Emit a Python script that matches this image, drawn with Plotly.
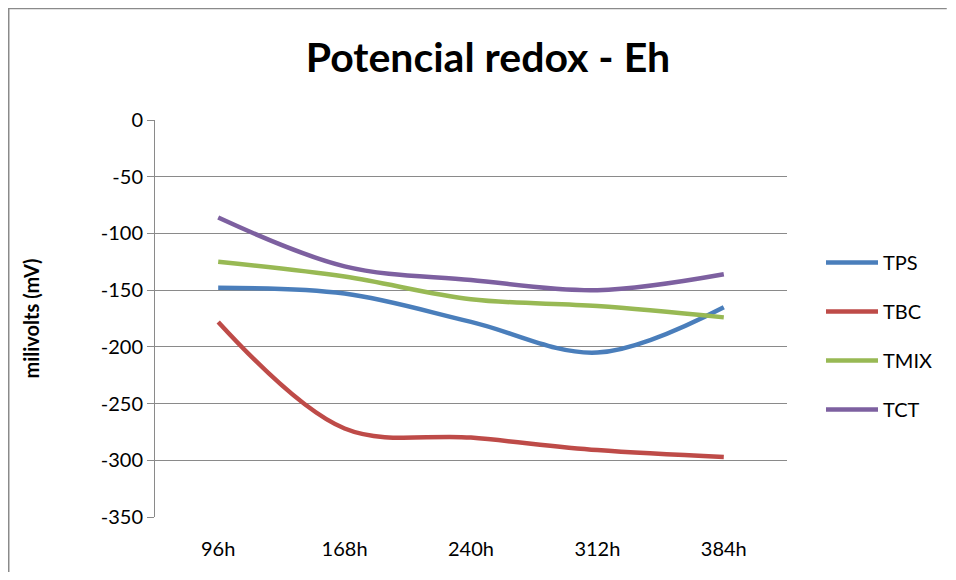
import plotly.graph_objects as go

categories = ["96h", "168h", "240h", "312h", "384h"]
series_names = ["TPS", "TBC", "TMIX", "TCT"]
tps = [-148, -153, -178, -205, -165]
tbc = [-178, -272, -280, -291, -297]
tmix = [-125, -138, -158, -164, -174]
tct = [-86, -129, -141, -150, -136]
colors = ["#4A7EBB", "#BE4B48", "#98B954", "#7D60A0"]
y_ticks = [0, -50, -100, -150, -200, -250, -300, -350]
y_tick_labels = ["0", "-50", "-100", "-150", "-200", "-250", "-300", "-350"]

FONT = "Lato"
W, H = 940, 564
L, R, T, B = 147, 160, 112, 55
PW, PH = W - L - R, H - T - B

fig = go.Figure()
for name, vals, col in zip(series_names, [tps, tbc, tmix, tct], colors):
    fig.add_trace(go.Scatter(
        x=categories, y=vals, name=name, mode="lines",
        line=dict(color=col, width=4.5, shape="spline", smoothing=1.0),
        legendgroup=name,
    ))

fig.update_layout(
    width=W, height=H,
    paper_bgcolor="white", plot_bgcolor="white",
    margin=dict(l=L, r=R, t=T, b=B),
    title=dict(text="<b>Potencial redox - Eh</b>", x=(488 - 8) / W, xanchor="center",
               y=1 - 50 / H, yanchor="middle",
               font=dict(family=FONT, size=41, color="black")),
    font=dict(family=FONT, size=20, color="black"),
    showlegend=True,
    legend=dict(x=(813 - L) / PW, xanchor="left", y=1 - (328 - T) / PH, yanchor="middle",
                font=dict(family=FONT, size=20, color="black"),
                tracegroupgap=20, itemwidth=52, bgcolor="rgba(0,0,0,0)"),
    xaxis=dict(type="category", showgrid=False, showline=False,
               ticks="", tickfont=dict(family=FONT, size=20),
               ticklabelstandoff=18,
               zeroline=False, range=[-0.5, 4.5]),
    yaxis=dict(range=[-350, 0], tickvals=y_ticks, ticktext=y_tick_labels,
               showgrid=True,
               gridcolor="#8A8A8A", gridwidth=1, showline=True,
               linecolor="#8A8A8A", linewidth=1, ticks="outside",
               ticklen=7, tickcolor="#8A8A8A", zeroline=False,
               tickfont=dict(family=FONT, size=20),
               title=dict(text="<b>milivolts (mV)</b>", standoff=55,
                          font=dict(family=FONT, size=20))),
    shapes=[dict(type="path", xref="paper", yref="paper",
                 path="M %f %f L %f %f L %f %f" % (
                     (0.5 - L) / PW, 1 - (H - T) / PH,
                     (0.5 - L) / PW, 1 + (T - 0.5) / PH,
                     (W - L) / PW, 1 + (T - 0.5) / PH),
                 line=dict(color="#8A8A8A", width=1.5), layer="below")],
)

fig.write_html("out.html")
